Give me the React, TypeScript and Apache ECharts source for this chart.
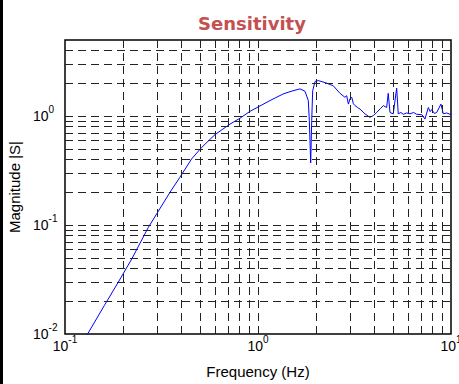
import React, { useEffect, useRef } from 'react';
import * as echarts from 'echarts';

const freq = [
  0.125, 0.1305, 0.16, 0.1888, 0.222, 0.27, 0.35, 0.394, 0.453, 0.511, 0.599,
  0.716, 0.807, 0.909, 1.154, 1.352, 1.5, 1.651, 1.752, 1.822, 1.845, 1.875,
  1.898, 1.92, 1.974, 2.053, 2.25, 2.455, 2.66, 2.82, 2.88, 2.94, 3.0, 3.06,
  3.12, 3.18, 3.28, 3.38, 3.58, 3.8, 3.95, 4.12, 4.3, 4.46, 4.64, 4.73, 4.83,
  5.02, 5.23, 5.33, 5.5, 5.66, 5.9, 6.13, 6.4, 6.64, 7.07, 7.33, 7.63, 7.8,
  7.94, 8.2, 8.43, 8.87, 9.12, 9.5, 10,
];
const magnitude = [
  0.0088, 0.0099, 0.0183, 0.0299, 0.049, 0.095, 0.2, 0.275, 0.405, 0.517, 0.677,
  0.845, 0.958, 1.107, 1.39, 1.6, 1.7, 1.78, 1.69, 1.39, 0.91, 0.372,
  0.91, 1.71, 2.08, 2.12, 2.02, 1.9, 1.62, 1.49, 1.54, 1.29, 1.45, 1.49,
  1.3, 1.25, 1.2, 1.16, 1.05, 0.975, 1.01, 1.08, 1.17, 1.25, 1.2, 1.62, 1.08,
  1.05, 1.81, 1.05, 1.08, 1.04, 1.07, 1.05, 1.08, 1.04, 1.03, 0.94, 1.2, 1.1,
  1.15, 1.06, 1.08, 1.29, 1.05, 1.07, 1.03,
];

const xTickValues = [0.1, 1, 10];
const yTickValues = [0.01, 0.1, 1];
const xGridValues = [
  0.2, 0.3, 0.4, 0.5, 0.6, 0.7, 0.8, 0.9, 1, 2, 3, 4, 5, 6, 7, 8, 9,
];
const yGridValues = [
  0.02, 0.03, 0.04, 0.05, 0.06, 0.07, 0.08, 0.09, 0.1, 0.2, 0.3, 0.4, 0.5, 0.6,
  0.7, 0.8, 0.9, 1, 2, 3, 4,
];

const FONT = '"Liberation Sans", Arial, sans-serif';

const powLabel = (ticks: number[]) => (v: number) => {
  const hit = ticks.find((t) => Math.abs(Math.log10(v) - Math.log10(t)) < 1e-6);
  if (hit === undefined) return '';
  return `{b|10}{s|${Math.round(Math.log10(hit))}}`;
};

const rich = {
  b: { fontSize: 14, fontFamily: FONT, color: '#000', verticalAlign: 'bottom', padding: [5, 0, 5, 0] },
  s: { fontSize: 10, fontFamily: FONT, color: '#000', verticalAlign: 'top' },
};

export default function App() {
  const ref = useRef<HTMLDivElement>(null);
  useEffect(() => {
    document.body.style.margin = '0';
    const chart = echarts.init(ref.current!, null, { renderer: 'svg' });
    const gridLines = [
      ...xGridValues.map((v) => ({ xAxis: v })),
      ...yGridValues.map((v) => ({ yAxis: v })),
    ];
    chart.setOption({
      animation: false,
      backgroundColor: '#fff',
      title: {
        text: 'Sensitivity',
        left: 247,
        top: 9,
        textAlign: 'center',
        textStyle: { fontFamily: '"DejaVu Sans", sans-serif', fontWeight: 'bold', fontSize: 18, color: '#c4504f' },
      },
      graphic: [
        { type: 'rect', left: 0, top: 0, shape: { width: 3, height: 384 }, style: { fill: '#000' } },
      ],
      grid: {
        left: 65, right: 8, top: 40, bottom: 50,
        outerBoundsMode: 'none',
        containLabel: false,
        show: true, borderColor: '#000', borderWidth: 1.5, backgroundColor: 'transparent',
      },
      xAxis: {
        type: 'log',
        logBase: 10,
        min: 0.1,
        max: 10,
        name: 'Frequency (Hz)',
        nameLocation: 'middle',
        nameGap: 30,
        nameTextStyle: { fontFamily: FONT, fontSize: 15, color: '#000' },
        axisLine: { show: false },
        axisTick: { show: false },
        splitLine: { show: false },
        axisLabel: { formatter: powLabel(xTickValues), rich, margin: 0, showMaxLabel: true, showMinLabel: true, hideOverlap: false },
      },
      yAxis: {
        type: 'log',
        logBase: 10,
        min: 0.01,
        max: 5,
        name: 'Magnitude |S|',
        nameLocation: 'middle',
        nameGap: 43,
        nameTextStyle: { fontFamily: FONT, fontSize: 15, color: '#000' },
        axisLine: { show: false },
        axisTick: { show: false },
        splitLine: { show: false },
        axisLabel: { formatter: powLabel(yTickValues), rich, align: 'left', margin: 32 },
      },
      series: [
        {
          type: 'line',
          data: [],
          z: 1,
          silent: true,
          markLine: {
            silent: true,
            symbol: ['none', 'none'],
            label: { show: false },
            emphasis: { disabled: true },
            animation: false,
            lineStyle: { type: [8, 5], color: '#222', width: 1 },
            data: gridLines,
          },
        },
        {
          type: 'line',
          z: 3,
          data: freq.map((f, i) => [f, magnitude[i]]),
          showSymbol: false,
          symbol: 'none',
          clip: true,
          lineStyle: { color: '#0000ff', width: 1 },
        },
      ],
    });
    return () => chart.dispose();
  }, []);
  return <div ref={ref} style={{ width: 459, height: 384 }} />;
}
